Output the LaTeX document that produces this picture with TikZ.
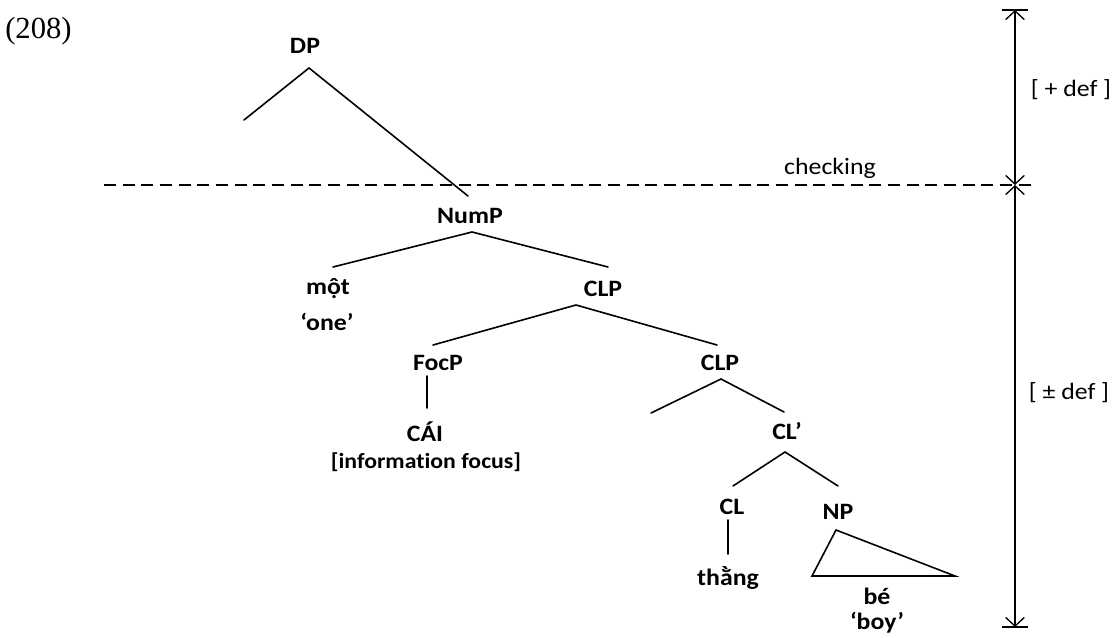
\documentclass[tikz,border=0pt]{standalone}
\usepackage{fontspec}
\setmainfont{Carlito}[FakeStretch=1.1, Ligatures=NoCommon]
\newfontfamily\exnumfont{Liberation Serif}
\usetikzlibrary{arrows.meta}

\begin{document}
\begin{tikzpicture}[x=0.75pt,y=-0.75pt,
  cat/.style={inner sep=0pt, font=\fontsize{17.6}{20}\selectfont\bfseries},
  small/.style={inner sep=0pt, font=\fontsize{16.2}{18}\selectfont\bfseries},
  gloss/.style={inner sep=0pt, font=\fontsize{17.6}{20}\selectfont},
  branch/.style={line width=1.2pt, line cap=round},
  checkline/.style={line width=1.2pt, dash pattern=on 9pt off 5pt},
  scalearrow/.style={line width=1pt, {Straight Barb[length=6.5pt,width=14pt]}-{Straight Barb[length=6.5pt,width=14pt]}},
  scalebar/.style={line width=1pt},
]
\useasboundingbox (0,0) rectangle (1117,638);

% example number
\node[anchor=west, inner sep=0pt, font=\exnumfont\fontsize{23}{26}\selectfont] (exnum) at (5,31) {(208)};

% DP
\node[cat] (DP) at (305,46) {DP};
\coordinate (dp-top) at (309,68);
\coordinate (dp-left) at (244,120);
\coordinate (dp-right) at (468,196);
\draw[branch] (dp-left) -- (dp-top) -- (dp-right);

% checking line
\coordinate (chk-l) at (104,185);
\coordinate (chk-r) at (1032,185);
\draw[checkline] (chk-l) -- (chk-r);
\node[gloss] (checking) at (830,168) {checking};

% NumP
\node[cat] (NumP) at (470,216) {NumP};
\coordinate (nump-top) at (472,232);
\coordinate (nump-left) at (333,267);
\coordinate (nump-right) at (608,267);
\draw[branch] (nump-left) -- (nump-top) -- (nump-right);

\node[cat] (mot) at (328,289) {một};
\node[cat] (one) at (327,322) {‘one’};

% upper CLP
\node[cat] (CLP1) at (603,289) {CLP};
\coordinate (clp1-top) at (576,305);
\coordinate (clp1-left) at (433,345);
\coordinate (clp1-right) at (717,345);
\draw[branch] (clp1-left) -- (clp1-top) -- (clp1-right);

% FocP
\node[cat] (FocP) at (438,363) {FocP};
\coordinate (focp-top) at (427,376);
\coordinate (focp-bot) at (427,408);
\draw[branch] (focp-top) -- (focp-bot);
\node[cat] (cai) at (425,432) {CÁI};
\node[small] (focus) at (426,462) {[information focus]};

% lower CLP
\node[cat] (CLP2) at (720,363) {CLP};
\coordinate (clp2-top) at (721,379);
\coordinate (clp2-left) at (651,413);
\coordinate (clp2-right) at (784,412);
\draw[branch] (clp2-left) -- (clp2-top) -- (clp2-right);

% CL'
\node[cat] (CLbar) at (787,431) {CL’};
\coordinate (clbar-top) at (785,452);
\coordinate (clbar-left) at (733,486);
\coordinate (clbar-right) at (838,486);
\draw[branch] (clbar-left) -- (clbar-top) -- (clbar-right);

% CL
\node[cat] (CL) at (732,507) {CL};
\coordinate (cl-top) at (728,520);
\coordinate (cl-bot) at (728,554);
\draw[branch] (cl-top) -- (cl-bot);
\node[cat] (thang) at (728,578) {thằng};

% NP with triangle
\node[cat] (NP) at (838,512) {NP};
\coordinate (np-top) at (836,530);
\coordinate (np-bl) at (812,576);
\coordinate (np-br) at (955,576);
\draw[branch, line join=miter] (np-top) -- (np-bl) -- (np-br) -- cycle;
\node[cat] (be) at (877,596) {bé};
\node[cat] (boy) at (877,623) {‘boy’};

% definiteness scale
\coordinate (sc-top) at (1015,10);
\coordinate (sc-mid) at (1015,185);
\coordinate (sc-bot) at (1015,627);
\draw[scalearrow] (sc-top) -- (sc-mid);
\draw[scalearrow] (sc-mid) -- (sc-bot);
\draw[scalebar] ([xshift=-10]sc-top) -- ([xshift=10]sc-top);
\draw[scalebar] ([xshift=-10]sc-bot) -- ([xshift=10]sc-bot);
\node[gloss] (plusdef) at (1071,90) {[ + def ]};
\node[gloss] (pmdef) at (1069,393) {[ ± def ]};
\end{tikzpicture}
\end{document}
